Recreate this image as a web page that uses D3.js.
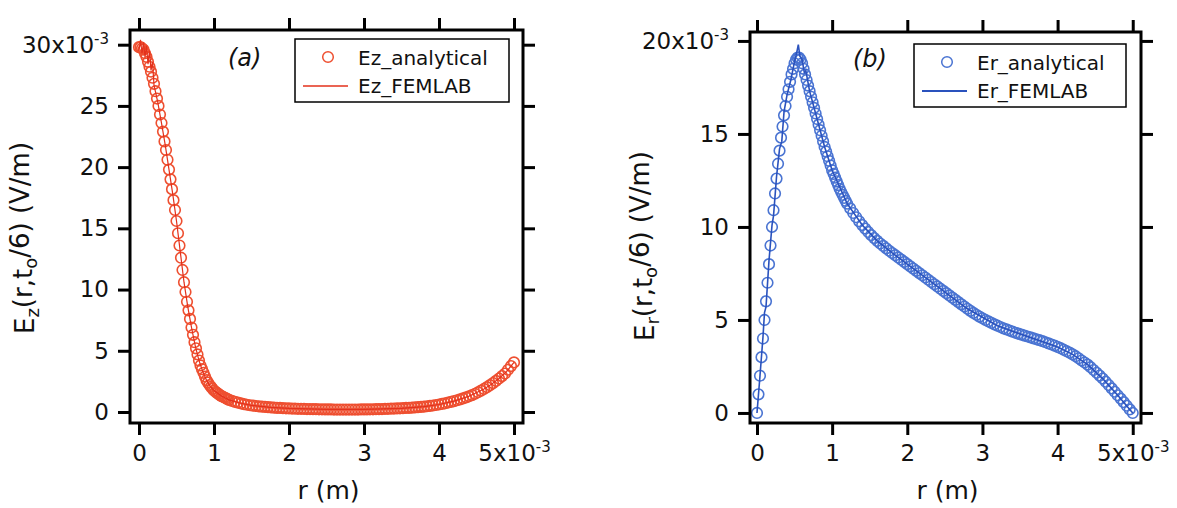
<!DOCTYPE html>
<html>
<head>
<meta charset="utf-8">
<script src="https://cdn.jsdelivr.net/npm/d3@7"></script>
<style>
  body { margin: 0; background: #fff; }
  svg { display: block; }
  text { font-family: "DejaVu Sans", Verdana, sans-serif; fill: #111; }
</style>
</head>
<body>
<svg id="chart" width="1177" height="508"></svg>
<script>
// r in units of 1e-3 m, fields in units of 1e-3 V/m
const rGrid = [
  0, 0.02, 0.04, 0.06, 0.08, 0.1, 0.12, 0.14, 0.16, 0.18,
  0.2, 0.22, 0.24, 0.26, 0.28, 0.3, 0.32, 0.34, 0.36, 0.38,
  0.4, 0.42, 0.44, 0.46, 0.48, 0.5, 0.52, 0.54, 0.56, 0.58,
  0.6, 0.62, 0.64, 0.66, 0.68, 0.7, 0.72, 0.74, 0.76, 0.78,
  0.8, 0.82, 0.84, 0.86, 0.88, 0.9, 0.92, 0.94, 0.96, 0.98,
  1.0, 1.02, 1.04, 1.06, 1.08, 1.1, 1.12, 1.14, 1.16, 1.18, 1.2,
  1.24, 1.28, 1.32, 1.36, 1.4, 1.44, 1.48, 1.52, 1.56, 1.6,
  1.64, 1.68, 1.72, 1.76, 1.8, 1.84, 1.88, 1.92, 1.96, 2.0,
  2.04, 2.08, 2.12, 2.16, 2.2, 2.24, 2.28, 2.32, 2.36, 2.4,
  2.44, 2.48, 2.52, 2.56, 2.6, 2.64, 2.68, 2.72, 2.76, 2.8,
  2.84, 2.88, 2.92, 2.96, 3.0, 3.04, 3.08, 3.12, 3.16, 3.2,
  3.24, 3.28, 3.32, 3.36, 3.4, 3.44, 3.48, 3.52, 3.56, 3.6,
  3.64, 3.68, 3.72, 3.76, 3.8, 3.84, 3.88, 3.92, 3.96, 4.0,
  4.04, 4.08, 4.12, 4.16, 4.2, 4.24, 4.28, 4.32, 4.36, 4.4,
  4.44, 4.48, 4.52, 4.56, 4.6, 4.64, 4.68, 4.72, 4.76, 4.8,
  4.84, 4.88, 4.92, 4.96, 5.0
];

const ezAnalytical = [
  29.8, 29.8, 29.7, 29.6, 29.3, 29.0, 28.6, 28.2, 27.8, 27.3,
  26.8, 26.2, 25.6, 25.0, 24.3, 23.6, 22.9, 22.1, 21.4, 20.6,
  19.8, 19.0, 18.2, 17.3, 16.5, 15.6, 14.6, 13.6, 12.6, 11.6,
  10.6, 9.8, 9.0, 8.3, 7.6, 6.9, 6.3, 5.7, 5.2, 4.7,
  4.2, 3.8, 3.5, 3.2, 2.9, 2.6, 2.4, 2.2, 2.05, 1.9,
  1.75, 1.65, 1.56, 1.47, 1.38, 1.3, 1.24, 1.18, 1.12, 1.05, 0.99,
  0.9, 0.83, 0.76, 0.7, 0.64, 0.59, 0.55, 0.52, 0.49, 0.46,
  0.44, 0.42, 0.4, 0.38, 0.36, 0.34, 0.33, 0.31, 0.3, 0.29,
  0.28, 0.27, 0.26, 0.26, 0.25, 0.24, 0.24, 0.23, 0.23, 0.22,
  0.22, 0.21, 0.21, 0.21, 0.2, 0.2, 0.2, 0.2, 0.2, 0.2,
  0.2, 0.2, 0.2, 0.21, 0.21, 0.21, 0.22, 0.22, 0.23, 0.23,
  0.24, 0.25, 0.26, 0.27, 0.28, 0.29, 0.3, 0.31, 0.33, 0.34,
  0.36, 0.38, 0.4, 0.42, 0.44, 0.47, 0.5, 0.53, 0.57, 0.61,
  0.66, 0.71, 0.77, 0.83, 0.89, 0.96, 1.03, 1.11, 1.19, 1.28,
  1.38, 1.49, 1.61, 1.74, 1.88, 2.03, 2.19, 2.36, 2.54, 2.73,
  2.93, 3.14, 3.45, 3.75, 4.05
];

const erAnalytical = [
  0, 1.0, 2.0, 3.0, 4.0, 5.0, 6.0, 7.0, 8.0, 9.0,
  10.0, 10.9, 11.8, 12.6, 13.4, 14.1, 14.8, 15.4, 16.0, 16.5,
  17.0, 17.4, 17.8, 18.2, 18.5, 18.8, 19.0, 19.1, 19.1, 19.0,
  18.8, 18.5, 18.2, 17.9, 17.6, 17.3, 17.0, 16.7, 16.4, 16.1,
  15.8, 15.5, 15.2, 14.9, 14.6, 14.3, 14.05, 13.8, 13.55, 13.3,
  13.05, 12.85, 12.65, 12.45, 12.25, 12.05, 11.88, 11.72, 11.56, 11.4, 11.25,
  11.0, 10.75, 10.52, 10.3, 10.1, 9.91, 9.73, 9.56, 9.4, 9.25,
  9.11, 8.98, 8.85, 8.72, 8.6, 8.48, 8.36, 8.24, 8.12, 8.0,
  7.88, 7.76, 7.64, 7.52, 7.4, 7.28, 7.16, 7.04, 6.92, 6.8,
  6.68, 6.56, 6.44, 6.32, 6.2, 6.08, 5.96, 5.84, 5.72, 5.6,
  5.49, 5.38, 5.28, 5.18, 5.09, 5.0, 4.92, 4.84, 4.76, 4.69,
  4.62, 4.55, 4.49, 4.43, 4.37, 4.31, 4.26, 4.21, 4.16, 4.11,
  4.06, 4.01, 3.96, 3.91, 3.86, 3.8, 3.74, 3.68, 3.62, 3.55,
  3.48, 3.4, 3.32, 3.24, 3.15, 3.05, 2.94, 2.82, 2.71, 2.6,
  2.46, 2.31, 2.16, 2.01, 1.85, 1.68, 1.5, 1.32, 1.14, 0.95,
  0.77, 0.58, 0.39, 0.19, 0.0
];

// FEMLAB solution (noisy near r = 0 for Ez and near the peak for Er)
const ezFemR = [
  0, 0.02, 0.04, 0.06, 0.08, 0.1, 0.12, 0.14, 0.16, 0.18,
  0.2, 0.25, 0.3, 0.35, 0.4, 0.45, 0.5, 0.55, 0.6, 0.65,
  0.7, 0.75, 0.8, 0.85, 0.9, 0.95, 1.0, 1.1, 1.2, 1.35,
  1.5, 1.75, 2.0, 2.5, 3.0, 3.5, 3.8, 4.0, 4.2, 4.4,
  4.6, 4.7, 4.8, 4.9, 5.0
];
const ezFem = [
  29.5, 30.4, 29.3, 30.2, 29.0, 29.9, 28.4, 29.5, 27.9, 28.6,
  26.7, 25.3, 23.6, 21.8, 19.8, 17.8, 15.6, 13.1, 10.6, 8.6,
  6.9, 5.4, 4.2, 3.3, 2.6, 2.1, 1.75, 1.3, 0.99, 0.72,
  0.54, 0.38, 0.29, 0.21, 0.21, 0.3, 0.44, 0.61, 0.89, 1.28,
  1.88, 2.27, 2.73, 3.3, 4.05
];

const erFemR = [
  0, 0.04, 0.08, 0.1, 0.12, 0.16, 0.2, 0.22, 0.26, 0.3,
  0.33, 0.36, 0.4, 0.45, 0.5, 0.53, 0.55, 0.57, 0.6, 0.63,
  0.65, 0.7, 0.8, 0.9, 1.0, 1.2, 1.4, 1.6, 1.8, 2.0,
  2.4, 2.8, 3.2, 3.6, 4.0, 4.2, 4.4, 4.6, 4.8, 5.0
];
const erFem = [
  0, 2.0, 4.1, 5.4, 5.7, 8.2, 10.1, 10.6, 12.7, 14.2,
  14.6, 16.2, 17.1, 17.9, 18.9, 19.4, 19.8, 19.2, 19.0, 18.3,
  18.4, 17.3, 15.8, 14.3, 13.05, 11.25, 10.1, 9.25, 8.6, 8.0,
  6.8, 5.6, 4.69, 4.11, 3.55, 3.15, 2.6, 1.85, 0.95, 0
];

const xTicks = [0, 1, 2, 3, 4, 5];
const ezTicks = [0, 5, 10, 15, 20, 25, 30];
const erTicks = [0, 5, 10, 15, 20];

const svg = d3.select("#chart");
const zip = (xs, ys) => xs.map((x, i) => ({ x, y: ys[i] }));

function superLabel(sel, last) {
    // last tick gets the "x10^-3" multiplier
    sel.each(function (d) {
        const t = d3.select(this);
        if (d === last) {
            t.text(d + "x10");
            t.append("tspan").attr("dy", "-0.6em").style("font-size", "15px").text("-3");
        } else {
            t.text(d);
        }
    });
}

function drawPanel(p) {
    const g = svg.append("g");
    const f = p.frame;
    const x = d3.scaleLinear().domain(p.xDomain).range([f.l, f.r]);
    const y = d3.scaleLinear().domain(p.yDomain).range([f.b, f.t]);

    // analytical circles
    g.append("g")
        .selectAll("circle")
        .data(zip(rGrid, p.analytical))
        .join("circle")
        .attr("cx", d => x(d.x))
        .attr("cy", d => y(d.y))
        .attr("r", 5.3)
        .attr("fill", "none")
        .attr("stroke", p.circleColor)
        .attr("stroke-width", 1.6);

    // FEMLAB line
    g.append("path")
        .datum(zip(p.femR, p.fem))
        .attr("fill", "none")
        .attr("stroke", p.lineColor)
        .attr("stroke-width", p.lineWidth)
        .attr("d", d3.line().x(d => x(d.x)).y(d => y(d.y)));

    // axes: ticks outside on all four sides
    const style = a => {
        a.select(".domain").remove();
        a.selectAll(".tick line").attr("stroke", "#000").attr("stroke-width", 3);
        a.selectAll(".tick text").style("font-size", "23px").attr("fill", "#111");
    };
    g.append("g").attr("transform", `translate(0,${f.b})`)
        .call(d3.axisBottom(x).tickValues(xTicks).tickSize(12).tickPadding(10))
        .call(style)
        .call(a => superLabel(a.selectAll(".tick text"), 5));
    g.append("g").attr("transform", `translate(0,${f.t})`)
        .call(d3.axisTop(x).tickValues(xTicks).tickSize(12).tickFormat(""))
        .call(style);
    g.append("g").attr("transform", `translate(${f.l},0)`)
        .call(d3.axisLeft(y).tickValues(p.yTicks).tickSize(12).tickPadding(9))
        .call(style)
        .call(a => superLabel(a.selectAll(".tick text"), p.yTicks[p.yTicks.length - 1]));
    g.append("g").attr("transform", `translate(${f.r},0)`)
        .call(d3.axisRight(y).tickValues(p.yTicks).tickSize(12).tickFormat(""))
        .call(style);

    g.append("rect")
        .attr("x", f.l).attr("y", f.t)
        .attr("width", f.r - f.l).attr("height", f.b - f.t)
        .attr("fill", "none").attr("stroke", "#000").attr("stroke-width", 3);

    // axis titles
    g.append("text")
        .attr("x", (f.l + f.r) / 2 + 2).attr("y", 499)
        .attr("text-anchor", "middle")
        .style("font-size", "25px")
        .text("r (m)");

    const yl = g.append("text")
        .attr("transform", `translate(${p.yLabelX},${p.yLabelY}) rotate(-90)`)
        .attr("text-anchor", "middle")
        .style("font-size", "26px");
    yl.append("tspan").text("E");
    yl.append("tspan").attr("dy", "0.3em").style("font-size", "18px").text(p.sub);
    yl.append("tspan").attr("dy", "-0.3em").text("(r,t");
    yl.append("tspan").attr("dy", "0.3em").style("font-size", "18px").text("o");
    yl.append("tspan").attr("dy", "-0.3em").text("/6) (V/m)");

    g.append("text")
        .attr("x", p.tag.x).attr("y", p.tag.y)
        .style("font-size", "24px").style("font-style", "italic")
        .text(p.tagText);

    // legend
    const L = p.legend;
    g.append("rect")
        .attr("x", L.x).attr("y", L.y).attr("width", L.w).attr("height", L.h)
        .attr("fill", "#fff").attr("stroke", "#000").attr("stroke-width", 1.5);
    g.append("circle")
        .attr("cx", L.x + 33).attr("cy", L.y + 18).attr("r", 5.3)
        .attr("fill", "none").attr("stroke", p.circleColor).attr("stroke-width", 1.5);
    g.append("line")
        .attr("x1", L.x + 8).attr("x2", L.x + 53)
        .attr("y1", L.y + 47).attr("y2", L.y + 47)
        .attr("stroke", p.lineColor).attr("stroke-width", p.lineWidth + 0.3);
    g.append("text").attr("x", L.x + 63).attr("y", L.y + 26)
        .style("font-size", "20px").text(p.names[0]);
    g.append("text").attr("x", L.x + 63).attr("y", L.y + 54)
        .style("font-size", "20px").text(p.names[1]);
}

drawPanel({
    frame: { l: 130, r: 523, t: 30, b: 423 },
    xDomain: [-0.12, 5.12],
    yDomain: [-0.9, 31.2],
    yTicks: ezTicks,
    analytical: ezAnalytical,
    femR: ezFemR,
    fem: ezFem,
    circleColor: "#ee4f30",
    lineColor: "#e3301b",
    lineWidth: 1.2,
    sub: "z",
    yLabelX: 34,
    yLabelY: 238,
    tag: { x: 228, y: 66 },
    tagText: "(a)",
    legend: { x: 295, y: 39, w: 214, h: 63 },
    names: ["Ez_analytical", "Ez_FEMLAB"]
});

drawPanel({
    frame: { l: 750, r: 1141, t: 32, b: 423 },
    xDomain: [-0.093, 5.11],
    yDomain: [-0.54, 20.48],
    yTicks: erTicks,
    analytical: erAnalytical,
    femR: erFemR,
    fem: erFem,
    circleColor: "#4a74d2",
    lineColor: "#2a52bd",
    lineWidth: 1.6,
    sub: "r",
    yLabelX: 654,
    yLabelY: 246,
    tag: { x: 853, y: 67 },
    tagText: "(b)",
    legend: { x: 914, y: 44, w: 212, h: 63 },
    names: ["Er_analytical", "Er_FEMLAB"]
});
</script>
</body>
</html>
